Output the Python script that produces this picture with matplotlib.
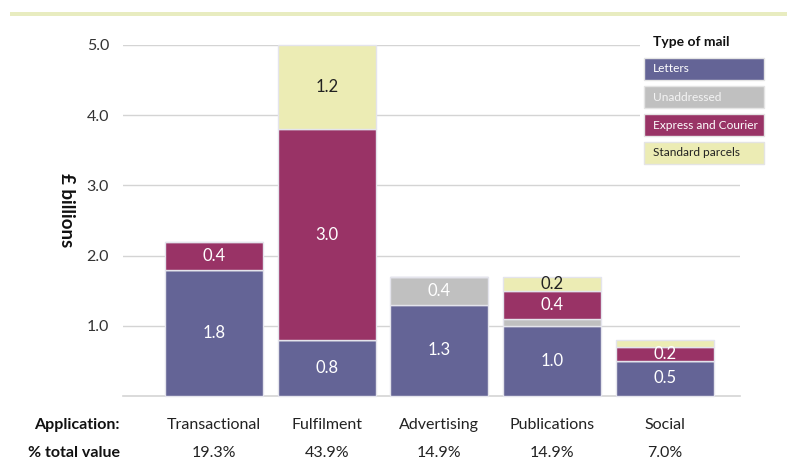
import matplotlib
matplotlib.use("Agg")
import matplotlib.pyplot as plt
from matplotlib.patches import Rectangle
import numpy as np

plt.rcParams['font.family'] = ['Lato', 'DejaVu Sans']

categories = ["Transactional", "Fulfilment", "Advertising", "Publications", "Social"]
pct_total = ["19.3%", "43.9%", "14.9%", "14.9%", "7.0%"]
series = ["Letters", "Unaddressed", "Express and Courier", "Standard parcels"]
letters = [1.8, 0.8, 1.3, 1.0, 0.5]
unaddressed = [0.0, 0.0, 0.4, 0.1, 0.0]
express = [0.4, 3.0, 0.0, 0.4, 0.2]
parcels = [0.0, 1.2, 0.0, 0.2, 0.1]
yticks = [1.0, 2.0, 3.0, 4.0, 5.0]

colors = ["#646496", "#c0c0c0", "#993366", "#ececb4"]
text_colors = ["white", "white", "white", "#222222"]

fig = plt.figure(figsize=(7.87, 4.61), dpi=100)
W, H = 787, 461
ax = fig.add_axes([123 / W, (H - 396) / H, (740 - 123) / W, (396 - 45) / H])

x = np.arange(len(categories))
width = 0.87
bottom = np.zeros(len(categories))
data = [letters, unaddressed, express, parcels]
for vals, col, tcol in zip(data, colors, text_colors):
    vals = np.array(vals)
    ax.bar(x, vals, width, bottom=bottom, color=col, edgecolor="#e4e4ec",
           linewidth=1.0, zorder=3, clip_on=False)
    for xi, v, b in zip(x, vals, bottom):
        if v >= 0.15:
            ax.text(xi, b + v / 2, f"{v:.1f}", ha="center", va="center",
                    color=tcol, fontsize=12, zorder=4)
    bottom = bottom + vals

ax.set_xlim(-0.807, 4.667)
ax.set_ylim(0, 5.0)
ax.set_yticks(yticks)
ax.set_yticklabels([f"{t:.1f}" for t in yticks], fontsize=11.5, color="#333333")
ax.set_xticks([])
ax.tick_params(axis="y", length=0, pad=10)
for s in ax.spines.values():
    s.set_visible(False)
ax.grid(axis="y", color="#d4d4d4", linewidth=1.0, zorder=0)
ax.axhline(0, color="#d4d4d4", linewidth=1.2, zorder=2, clip_on=False)

ax.set_ylabel("£ billions", rotation=270, fontsize=13.5, fontweight="bold",
              labelpad=0, color="#111111")
ax.yaxis.set_label_coords((58 - 123) / (740 - 123), 0.53)

# bottom labels
fig.text(120 / W, 1 - 425 / H, "Application:", ha="right", va="center",
         fontsize=11.5, fontweight="bold", color="#111111")
fig.text(120 / W, 1 - 453 / H, "% total value", ha="right", va="center",
         fontsize=11.5, fontweight="bold", color="#111111")
for xi, c, p in zip(x, categories, pct_total):
    ax.text(xi, -(425 - 396) / (396 - 45), c, transform=ax.get_xaxis_transform(),
            ha="center", va="center", fontsize=11.5, color="#222222")
    ax.text(xi, -(453 - 396) / (396 - 45), p, transform=ax.get_xaxis_transform(),
            ha="center", va="center", fontsize=11.5, color="#222222")

# top decorative band
fig.add_artist(Rectangle((10 / W, 1 - 16 / H), (787 - 10) / W, 4 / H,
                         transform=fig.transFigure, facecolor="#e8ecc0",
                         edgecolor="none"))

# legend
fig.patches.append(Rectangle((640 / W, 1 - 168 / H), 128 / W, 140 / H,
                             transform=fig.transFigure, facecolor="white",
                             edgecolor="none", zorder=5))
fig.text(653 / W, 1 - 42 / H, "Type of mail", ha="left", va="center",
         fontsize=10, fontweight="bold", color="#111111", zorder=6)
legend_text_colors = ["white", "#f4f4f4", "white", "#222222"]
tops = [58, 86, 114, 142]
for name, col, tcol, t in zip(series, colors, legend_text_colors, tops):
    fig.patches.append(Rectangle((644 / W, 1 - (t + 22) / H), 120 / W, 22 / H,
                                 transform=fig.transFigure, facecolor=col,
                                 edgecolor="#e4e4e4", linewidth=1, zorder=6))
    fig.text(653 / W, 1 - (t + 11) / H, name, ha="left", va="center",
             fontsize=8.6, color=tcol, zorder=7)

fig.savefig("out.png", dpi=100, facecolor="white")
